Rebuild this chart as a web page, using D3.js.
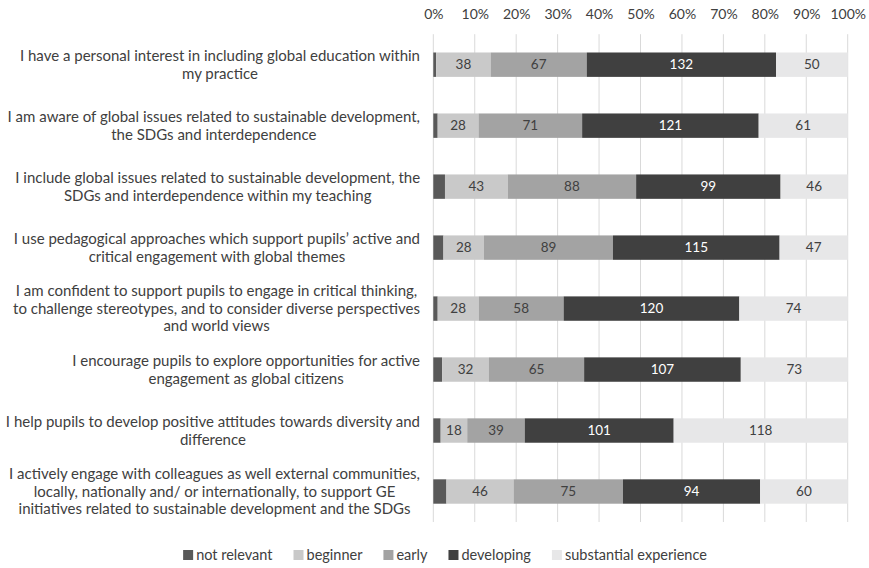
<!DOCTYPE html>
<html>
<head>
<meta charset="utf-8">
<script src="https://cdn.jsdelivr.net/npm/d3@7"></script>
<style>
  body { margin: 0; background: #fff; }
  svg { font-family: Lato, "Liberation Sans", sans-serif; }
</style>
</head>
<body>
<svg id="chart"></svg>
<script>
const categories = [
  ["I have a personal interest in including global education within", "my practice"],
  ["I am aware of global issues related to sustainable development,", "the SDGs and interdependence"],
  ["I include global issues related to sustainable development, the", "SDGs and interdependence within my teaching"],
  ["I use pedagogical approaches which support pupils’ active and", "critical engagement with global themes"],
  ["I am confident to support pupils to engage in critical thinking,", "to challenge stereotypes, and to consider diverse perspectives", "and world views"],
  ["I encourage pupils to explore opportunities for active", "engagement as global citizens"],
  ["I help pupils to develop positive attitudes towards diversity and", "difference"],
  ["I actively engage with colleagues as well external communities,", "locally, nationally and/ or internationally, to support GE", "initiatives related to sustainable development and the SDGs"]
];
const seriesNames = ["not relevant", "beginner", "early", "developing", "substantial experience"];
const notRelevant = [2, 3, 8, 7, 3, 6, 5, 9];
const beginner = [38, 28, 43, 28, 28, 32, 18, 46];
const early = [67, 71, 88, 89, 58, 65, 39, 75];
const developing = [132, 121, 99, 115, 120, 107, 101, 94];
const substantial = [50, 61, 46, 47, 74, 73, 118, 60];
const tickValues = [0, 0.1, 0.2, 0.3, 0.4, 0.5, 0.6, 0.7, 0.8, 0.9, 1];

const colors = ["#595959", "#c9c9c9", "#a3a3a3", "#404040", "#e7e7e8"];
const labelColors = [null, "#404040", "#404040", "#ffffff", "#404040"];

const width = 869, height = 568;
const svg = d3.select("#chart").attr("width", width).attr("height", height);

const x = d3.scaleLinear().domain([0, 1]).range([433.3, 847.7]);
const keys = categories.map((c, i) => i);
const y = d3.scaleBand().domain(keys).range([34.2, 522]).paddingInner(0.6).paddingOuter(0.3);

const seriesData = [notRelevant, beginner, early, developing, substantial];
const rows = keys.map(i => {
  const vals = seriesData.map(s => s[i]);
  const total = d3.sum(vals);
  let acc = 0;
  return vals.map((v, k) => {
    const seg = { row: i, k: k, v: v, x0: acc / total, x1: (acc + v) / total };
    acc += v;
    return seg;
  });
});

// gridlines
svg.append("g")
  .selectAll("line")
  .data(tickValues)
  .join("line")
  .attr("x1", d => x(d)).attr("x2", d => x(d))
  .attr("y1", 34.2).attr("y2", 522)
  .attr("stroke", "#d9d9d9").attr("stroke-width", 1);

// top axis
const axis = d3.axisTop(x).tickValues(tickValues).tickFormat(d3.format(".0%")).tickSize(0).tickPadding(0);
const axisG = svg.append("g").attr("transform", "translate(0,19)").call(axis);
axisG.select(".domain").remove();
axisG.selectAll("text").attr("fill", "#404040").style("font-size", "14px").style("font-family", "Lato, sans-serif");

// bars
const segs = rows.flat();
svg.append("g")
  .selectAll("rect")
  .data(segs)
  .join("rect")
  .attr("x", d => x(d.x0))
  .attr("width", d => x(d.x1) - x(d.x0))
  .attr("y", d => y(d.row))
  .attr("height", y.bandwidth())
  .attr("fill", d => colors[d.k]);

// value labels
svg.append("g")
  .selectAll("text")
  .data(segs.filter(d => d.k > 0))
  .join("text")
  .attr("x", d => (x(d.x0) + x(d.x1)) / 2)
  .attr("y", d => y(d.row) + y.bandwidth() / 2)
  .attr("dy", "0.35em")
  .attr("text-anchor", "middle")
  .attr("fill", d => labelColors[d.k])
  .style("font-size", "13.5px")
  .text(d => d.v);

// category labels: block right-aligned, lines centered within block
const labelRight = 420;
const lineH = 17.5;
const catG = svg.append("g").style("font-size", "15px").attr("fill", "#404040");
categories.forEach((lines, i) => {
  const t = catG.append("text").attr("text-anchor", "middle");
  const spans = lines.map(l => t.append("tspan").text(l));
  const maxW = d3.max(spans, s => s.node().getComputedTextLength());
  const cx = labelRight - maxW / 2;
  const cy = y(i) + y.bandwidth() / 2;
  const startY = cy - (lines.length - 1) * lineH / 2;
  spans.forEach((s, j) => s.attr("x", cx).attr("y", startY + j * lineH).attr("dy", "0.35em"));
});

// legend
const legend = svg.append("g").style("font-size", "14.5px").attr("fill", "#404040");
const items = seriesNames.map((name, k) => {
  const g = legend.append("g");
  g.append("rect").attr("width", 10).attr("height", 10).attr("y", -5).attr("fill", colors[k]);
  const t = g.append("text").attr("x", 13).attr("dy", "0.35em").text(name);
  return { g: g, w: 13 + t.node().getComputedTextLength() };
});
const gap = 21;
const totalW = d3.sum(items, d => d.w) + gap * (items.length - 1);
let lx = 445 - totalW / 2;
items.forEach(it => {
  it.g.attr("transform", `translate(${lx},555)`);
  lx += it.w + gap;
});
</script>
</body>
</html>
